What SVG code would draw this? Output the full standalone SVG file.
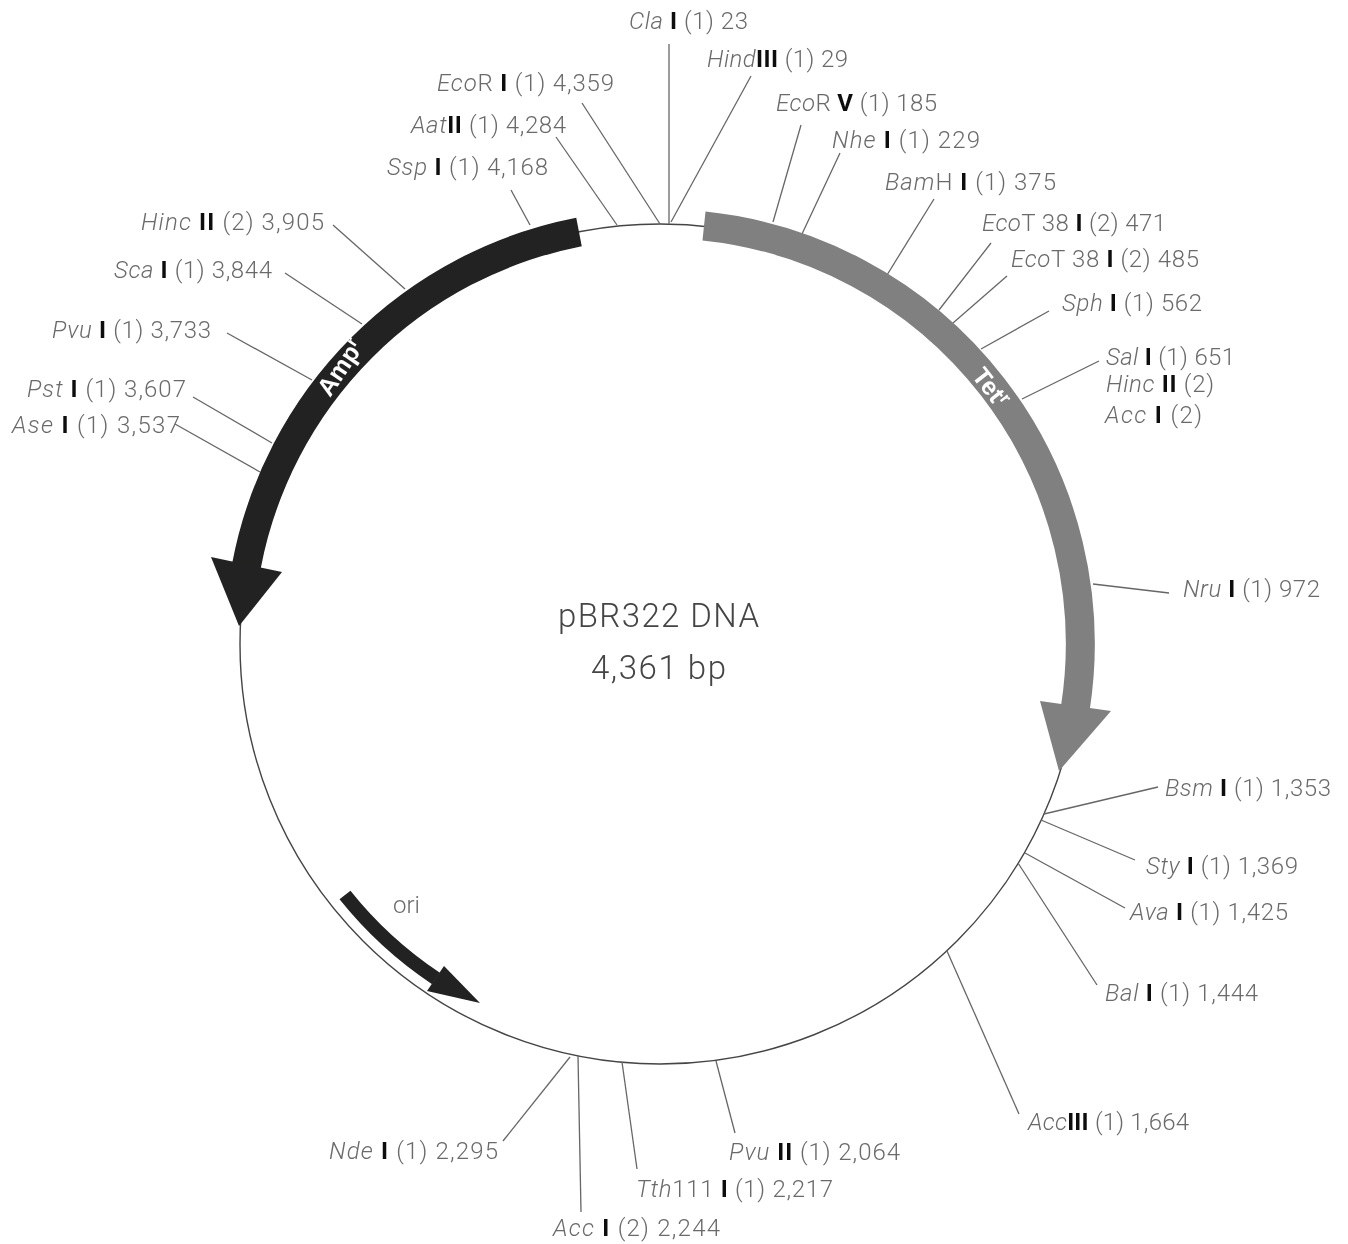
<svg xmlns="http://www.w3.org/2000/svg" width="1348" height="1244" viewBox="0 0 1348 1244">
<defs><filter id="soft" x="-2%" y="-2%" width="104%" height="104%"><feGaussianBlur stdDeviation="0.55"/></filter></defs>
<style>
text{font-family:"Liberation Sans",Arial,sans-serif;font-size:23px;fill:#6a6a6a;font-weight:400}
.r{font-family:Roboto,"Liberation Sans",sans-serif;font-weight:300;font-size:24px}
.i{font-style:italic}
.n{fill:#111;font-weight:700}
.c{font-size:33px;fill:#444;font-family:Roboto,"Liberation Sans",sans-serif;font-weight:300}
.w{fill:#fff;font-weight:700;font-size:25px;font-family:"Liberation Sans",sans-serif}
.l{stroke:#666;stroke-width:1.3;fill:none}
.sup{font-size:17px}
</style>
<rect width="1348" height="1244" fill="#fff"/>
<g filter="url(#soft)">
<g id="plasmid"><circle cx="660" cy="644" r="420" fill="none" stroke="#444" stroke-width="1.4"/></g>
<g id="connectors" class="l">
<path d="M669 44V224"/><path d="M751 76L671 222"/><path d="M801 125L773 222"/><path d="M840 153L802 234"/><path d="M934 199L887 275"/><path d="M991 243L939 310"/><path d="M1007 276L953 323"/><path d="M1049 311L981 349"/><path d="M1099 361L1022 399"/><path d="M1169 593L1093 584"/><path d="M1158 787L1044 814"/><path d="M1135 860L1041 820"/><path d="M1125 908L1025 853"/><path d="M1097 985L1018 863"/><path d="M1019 1114L947 951"/><path d="M735 1133L716 1061"/><path d="M637 1169L622 1062"/><path d="M581 1212L578 1056"/><path d="M503 1141L570 1057"/><path d="M333 225L405 289"/><path d="M285 273L362 324"/><path d="M227 333L312 380"/><path d="M193 397L272 443"/><path d="M175 424L260 472"/><path d="M511 190L530 225"/><path d="M556 137L617 225"/><path d="M582 103L660 224"/>
</g>
<g id="tet"><path d="M704 226A420 420 0 0 1 1075.5 707" fill="none" stroke="#808080" stroke-width="29"/><polygon points="1040,701 1111,711 1059,771" fill="#808080"/><text class="w" transform="translate(971,376) rotate(52)">Tet<tspan class="sup" dy="-8">r</tspan></text></g>
<g id="amp"><path d="M579 232A420 420 0 0 0 246.5 565.5" fill="none" stroke="#222120" stroke-width="29"/><polygon points="211,557 282,572 239,626" fill="#222120"/><text class="w" transform="translate(330,398) rotate(-56)">Amp<tspan class="sup" dy="-8">r</tspan></text></g>
<g id="ori"><path d="M345 895A401 401 0 0 0 436 978.5" fill="none" stroke="#222120" stroke-width="14"/><polygon points="444,966 427,991 480,1003" fill="#222120"/><text class="r" x="393" y="913" textLength="27">ori</text></g>
<g id="title"><text class="c" x="558" y="627" textLength="201">pBR322 DNA</text><text class="c" x="591" y="679" textLength="135">4,361 bp</text></g>
<g id="ClaI"><text class="r" x="629" y="29" textLength="119"><tspan class="i">Cla</tspan> <tspan class="n">I</tspan> (1) 23</text></g>
<g id="HindIII"><text class="r" x="707" y="67" textLength="141"><tspan class="i">Hind</tspan><tspan class="n">III</tspan> (1) 29</text></g>
<g id="EcoRV"><text class="r" x="776" y="111" textLength="161"><tspan class="i">Eco</tspan>R <tspan class="n">V</tspan> (1) 185</text></g>
<g id="NheI"><text class="r" x="832" y="148" textLength="148"><tspan class="i">Nhe</tspan> <tspan class="n">I</tspan> (1) 229</text></g>
<g id="BamHI"><text class="r" x="885" y="190" textLength="171"><tspan class="i">Bam</tspan>H <tspan class="n">I</tspan> (1) 375</text></g>
<g id="EcoT38I-471"><text class="r" x="982" y="231" textLength="184"><tspan class="i">Eco</tspan>T 38 <tspan class="n">I</tspan> (2) 471</text></g>
<g id="EcoT38I-485"><text class="r" x="1011" y="267" textLength="188"><tspan class="i">Eco</tspan>T 38 <tspan class="n">I</tspan> (2) 485</text></g>
<g id="SphI"><text class="r" x="1062" y="311" textLength="140"><tspan class="i">Sph</tspan> <tspan class="n">I</tspan> (1) 562</text></g>
<g id="SalI"><text class="r" x="1106" y="365" textLength="129"><tspan class="i">Sal</tspan> <tspan class="n">I</tspan> (1) 651</text><text class="r" x="1106" y="392" textLength="108"><tspan class="i">Hinc</tspan> <tspan class="n">II</tspan> (2)</text><text class="r" x="1105" y="423" textLength="97"><tspan class="i">Acc</tspan> <tspan class="n">I</tspan> (2)</text></g>
<g id="NruI"><text class="r" x="1183" y="597" textLength="137"><tspan class="i">Nru</tspan> <tspan class="n">I</tspan> (1) 972</text></g>
<g id="BsmI"><text class="r" x="1165" y="796" textLength="166"><tspan class="i">Bsm</tspan> <tspan class="n">I</tspan> (1) 1,353</text></g>
<g id="StyI"><text class="r" x="1146" y="874" textLength="152"><tspan class="i">Sty</tspan> <tspan class="n">I</tspan> (1) 1,369</text></g>
<g id="AvaI"><text class="r" x="1130" y="920" textLength="158"><tspan class="i">Ava</tspan> <tspan class="n">I</tspan> (1) 1,425</text></g>
<g id="BalI"><text class="r" x="1105" y="1001" textLength="153"><tspan class="i">Bal</tspan> <tspan class="n">I</tspan> (1) 1,444</text></g>
<g id="AccIII"><text class="r" x="1028" y="1130" textLength="161"><tspan class="i">Acc</tspan><tspan class="n">III</tspan> (1) 1,664</text></g>
<g id="PvuII"><text class="r" x="729" y="1160" textLength="171"><tspan class="i">Pvu</tspan> <tspan class="n">II</tspan> (1) 2,064</text></g>
<g id="Tth111I"><text class="r" x="636" y="1197" textLength="197"><tspan class="i">Tth</tspan>111 <tspan class="n">I</tspan> (1) 2,217</text></g>
<g id="AccI"><text class="r" x="553" y="1236" textLength="167"><tspan class="i">Acc</tspan> <tspan class="n">I</tspan> (2) 2,244</text></g>
<g id="NdeI"><text class="r" x="329" y="1159" textLength="169"><tspan class="i">Nde</tspan> <tspan class="n">I</tspan> (1) 2,295</text></g>
<g id="EcoRI"><text class="r" x="437" y="91" textLength="177"><tspan class="i">Eco</tspan>R <tspan class="n">I</tspan> (1) 4,359</text></g>
<g id="AatII"><text class="r" x="411" y="133" textLength="155"><tspan class="i">Aat</tspan><tspan class="n">II</tspan> (1) 4,284</text></g>
<g id="SspI"><text class="r" x="387" y="175" textLength="161"><tspan class="i">Ssp</tspan> <tspan class="n">I</tspan> (1) 4,168</text></g>
<g id="HincII"><text class="r" x="141" y="230" textLength="183"><tspan class="i">Hinc</tspan> <tspan class="n">II</tspan> (2) 3,905</text></g>
<g id="ScaI"><text class="r" x="114" y="278" textLength="158"><tspan class="i">Sca</tspan> <tspan class="n">I</tspan> (1) 3,844</text></g>
<g id="PvuI"><text class="r" x="52" y="338" textLength="159"><tspan class="i">Pvu</tspan> <tspan class="n">I</tspan> (1) 3,733</text></g>
<g id="PstI"><text class="r" x="27" y="397" textLength="159"><tspan class="i">Pst</tspan> <tspan class="n">I</tspan> (1) 3,607</text></g>
<g id="AseI"><text class="r" x="12" y="433" textLength="168"><tspan class="i">Ase</tspan> <tspan class="n">I</tspan> (1) 3,537</text></g>
</g>
</svg>
